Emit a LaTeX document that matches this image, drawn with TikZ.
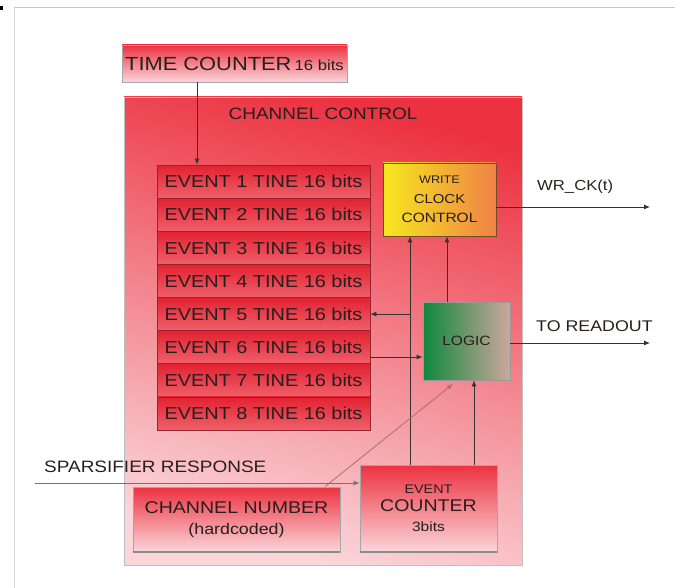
\documentclass[tikz,border=0pt]{standalone}
\usepackage{fontspec}
\setmainfont{Liberation Sans}[FakeStretch=1.15]
\usetikzlibrary{arrows.meta}
\definecolor{txt}{RGB}{40,30,30}
\definecolor{redtop}{RGB}{236,50,64}
\definecolor{pinkbot}{RGB}{250,214,218}
\definecolor{rowtop}{RGB}{226,34,50}
\definecolor{rowbot}{RGB}{240,96,106}
\definecolor{rowline}{RGB}{150,36,46}
\tikzset{
  x=1pt,y=-1pt,
  every node/.style={text=txt,inner sep=0pt},
  arr/.style={draw=black!80,line width=0.8pt,-{Latex[length=6pt,width=5pt]}},
  evrow/.style={draw=rowline,line width=0.8pt,top color=rowtop,bottom color=rowbot,
    minimum width=213pt,minimum height=33.1pt,font=\fontsize{17.3}{18}\selectfont},
  redbox/.style={draw=black!35,line width=0.8pt,top color=redtop,bottom color=pinkbot},
}
\begin{document}
\begin{tikzpicture}
\useasboundingbox (0,0) rectangle (675,588);
% outer faint frame
\draw[black!14,line width=1pt] (14,600) -- (14,8);
\draw[black!22,line width=1pt] (14,8) -- (690,8);
\fill[black] (0,6) rectangle (3,10);
% channel control
\node[redbox,draw=black!25,minimum width=398pt,minimum height=468pt,shading angle=-15] (cc) at (323,331) {};
\node[font=\fontsize{16.5}{18}\selectfont] (cct) at (323,114) {CHANNEL CONTROL};
% time counter
\node[redbox,minimum width=225pt,minimum height=37pt] (tc) at (234.5,63.5) {\fontsize{19}{20}\selectfont TIME COUNTER\,\fontsize{14.5}{15}\selectfont 16 bits};
% event rows
\foreach \i in {1,...,8}{
  \node[evrow] (ev\i) at (263.5,{181.6+33.125*(\i-1)}) {EVENT \i\ TINE 16 bits};
}
% write clock control
\node[draw=black!40!brown,line width=0.8pt,left color={rgb,255:red,246;green,232;blue,30},right color={rgb,255:red,240;green,130;blue,70},
  minimum width=113pt,minimum height=73pt,align=center] (wcc) at (439.5,199.5)
  {{\fontsize{11}{12}\selectfont WRITE}\\[8pt]{\fontsize{13}{14}\selectfont CLOCK}\\[7pt]{\fontsize{13.5}{14}\selectfont CONTROL}};
% logic
\node[draw=black!40,line width=0.8pt,left color={rgb,255:red,14;green,136;blue,60},right color={rgb,255:red,206;green,166;blue,156},
  minimum width=87pt,minimum height=78pt,font=\fontsize{13.5}{14}\selectfont] (logic) at (466.5,341) {LOGIC};
% channel number
\node[redbox,minimum width=207pt,minimum height=65pt,align=center] (cn) at (236.5,519.5)
  {{\fontsize{17}{18}\selectfont CHANNEL NUMBER}\\[9pt]{\fontsize{15.5}{16}\selectfont (hardcoded)}};
% event counter
\node[redbox,minimum width=137pt,minimum height=87pt,align=center] (ec) at (428.5,508.5)
  {{\fontsize{12.5}{14}\selectfont EVENT}\\[6pt]{\fontsize{17}{18}\selectfont COUNTER}\\[8pt]{\fontsize{13.5}{14}\selectfont 3bits}};
\draw[black!45,line width=2pt] (cn.south west) -- (cn.south east);
\draw[black!45,line width=2pt] (ec.south west) -- (ec.south east);
% labels
\node[anchor=west,font=\fontsize{14.5}{16}\selectfont] (wrl) at (537,187) {WR\_CK(t)};
\node[anchor=west,font=\fontsize{15.5}{16}\selectfont] (rol) at (536,326) {TO READOUT};
\node[anchor=west,font=\fontsize{16.5}{17}\selectfont] (spl) at (44,467) {SPARSIFIER RESPONSE};
% coordinates
\coordinate (a) at (197,0);
\coordinate (wr) at (650,207);
\coordinate (ro) at (650,343);
\coordinate (v1) at (410,0);
\coordinate (v2) at (447,0);
\coordinate (v3) at (474,0);
\coordinate (e6) at (0,357);
\coordinate (dg1) at (325,0);
\coordinate (dg2) at (453,384);
\coordinate (sp) at (35,483);
% connectors
\draw[arr] (tc.south -| a) -- (ev1.north -| a);
\draw[arr] (wr -| wcc.east) -- (wr);
\draw[arr] (ro -| logic.east) -- (ro);
\draw[arr] (ec.north -| v1) -- (wcc.south -| v1);
\draw[arr] (v1 |- ev5.east) -- (ev5.east);
\draw[arr] (ev6.east |- e6) -- (logic.west |- e6);
\draw[arr] (logic.north -| v2) -- (wcc.south -| v2);
\draw[arr] (ec.north -| v3) -- (logic.south -| v3);
\draw[draw={rgb,255:red,170;green,110;blue,115},line width=0.8pt,-{Latex[length=6pt,width=5pt]}] (cn.north -| dg1) -- (dg2);
\draw[arr,draw=black!55] (sp) -- (ec.west |- sp);
\end{tikzpicture}
\end{document}
